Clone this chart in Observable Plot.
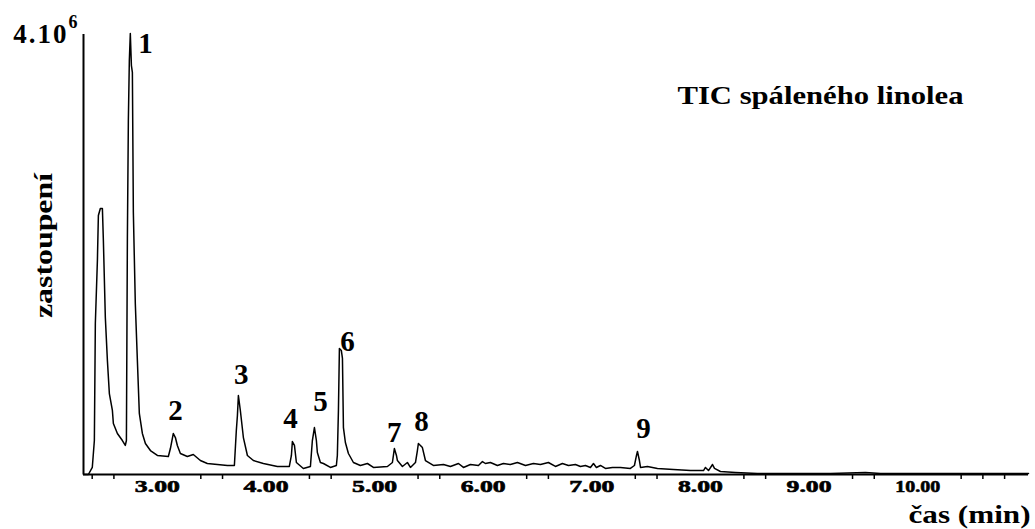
<!DOCTYPE html>
<html><head><meta charset="utf-8">
<script src="https://cdn.jsdelivr.net/npm/d3@7"></script>
<script src="https://cdn.jsdelivr.net/npm/@observablehq/plot@0.6"></script>
<style>
html,body{margin:0;padding:0;background:#fff;}
</style>
</head><body><div id="chart"></div>
<script>
// retention time (min)
const times = [2.319,2.365,2.401,2.420,2.429,2.448,2.457,2.475,2.494,2.503,2.521,2.540,2.558,2.586,2.595,2.632,2.678,2.705,2.715,2.724,2.733,2.742,2.751,2.761,2.770,2.779,2.797,2.816,2.834,2.862,2.890,2.936,3.000,3.101,3.120,3.147,3.166,3.184,3.212,3.276,3.331,3.396,3.460,3.645,3.709,3.727,3.737,3.746,3.764,3.792,3.829,3.884,3.976,4.105,4.215,4.234,4.243,4.262,4.280,4.344,4.409,4.427,4.446,4.464,4.473,4.501,4.529,4.593,4.648,4.657,4.667,4.676,4.694,4.704,4.713,4.731,4.759,4.805,4.869,4.934,4.989,5.118,5.164,5.182,5.201,5.210,5.256,5.302,5.330,5.376,5.394,5.403,5.422,5.440,5.468,5.541,5.634,5.698,5.772,5.818,5.882,5.956,5.993,6.020,6.066,6.131,6.186,6.250,6.315,6.389,6.462,6.527,6.600,6.665,6.729,6.785,6.849,6.895,6.941,6.987,7.015,7.042,7.079,7.125,7.190,7.263,7.355,7.392,7.411,7.420,7.438,7.448,7.512,7.604,7.751,7.908,8.028,8.046,8.074,8.111,8.129,8.184,8.322,8.525,8.737,8.921,9.197,9.519,9.658,11.02];
// abundance (×10^6)
const signal = [0,0,0.064,0.309,1.373,1.945,2.355,2.418,2.418,2.127,1.427,1.036,0.736,0.582,0.464,0.373,0.309,0.264,0.309,2.145,3.218,3.764,4.009,3.718,3.655,2.382,1.555,1.036,0.555,0.373,0.282,0.218,0.173,0.164,0.236,0.373,0.336,0.264,0.191,0.164,0.182,0.127,0.100,0.082,0.082,0.400,0.536,0.718,0.582,0.336,0.173,0.127,0.100,0.073,0.073,0.173,0.300,0.264,0.109,0.055,0.073,0.309,0.427,0.309,0.200,0.109,0.100,0.064,0.082,0.173,0.582,1.145,1.127,1.055,0.427,0.291,0.191,0.109,0.082,0.100,0.064,0.073,0.109,0.236,0.173,0.127,0.073,0.109,0.064,0.109,0.218,0.282,0.264,0.245,0.127,0.082,0.091,0.073,0.100,0.064,0.091,0.082,0.118,0.100,0.109,0.082,0.100,0.091,0.109,0.082,0.100,0.091,0.109,0.073,0.100,0.082,0.091,0.073,0.082,0.064,0.100,0.064,0.082,0.055,0.064,0.064,0.055,0.082,0.173,0.209,0.127,0.064,0.073,0.055,0.045,0.036,0.036,0.064,0.036,0.091,0.055,0.027,0.018,0.009,0.009,0.009,0.009,0.018,0.009,0.009];

const peakLabels = ["1","2","3","4","5","6","7","8","9"];
const peakLabelTimes = [2.890,3.166,3.773,4.225,4.501,4.750,5.182,5.431,7.475];
const peakLabelHeights = [3.836,0.491,0.827,0.427,0.573,1.127,0.291,0.391,0.336];

const xTickValues = [3,4,5,6,7,8,9,10];
const xTickLabels = ["3.00","4.00","5.00","6.00","7.00","8.00","9.00","10.00"];
const minorTicks = [2.4,2.6,3.4,3.6,4.4,4.6,5.4,5.6,6.4,6.6,7.4,7.6,8.4,8.6,9.4,9.6,10.4,10.6,10.8];
const yTopValue = 4;
const yTopLabel = "4.10";
const yTopExponent = "6";

const titleText = "TIC spáleného linolea";
const xLabelText = "čas (min)";
const yLabelText = "zastoupení";

const data = times.map((t, i) => ({t, v: signal[i]}));
const peaks = peakLabels.map((l, i) => ({l, t: peakLabelTimes[i], v: peakLabelHeights[i]}));
const serif = '"Liberation Serif", "Times New Roman", serif';
const xMin = 2.32;

const chart = Plot.plot({
  width: 1035, height: 529,
  marginLeft: 83, marginRight: 7, marginTop: 34, marginBottom: 55,
  x: {domain: [xMin, 11.02], axis: null},
  y: {domain: [0, 4], axis: null},
  style: {fontFamily: serif, fontWeight: "bold", color: "#000", background: "#fff", overflow: "visible"},
  marks: [
    Plot.axisX({ticks: minorTicks, tickSize: 5, tickFormat: () => "", label: null, strokeWidth: 1.5}),
    Plot.axisX({ticks: xTickValues, tickSize: 0, tickPadding: 5, fontSize: 17, label: null,
      tickFormat: d => xTickLabels[xTickValues.indexOf(d)]}),
    Plot.axisY({ticks: [yTopValue], tickSize: 0, tickPadding: 6, fontSize: 27, label: null,
      tickFormat: () => yTopLabel}),
    Plot.line(data, {x: "t", y: "v", stroke: "#000", strokeWidth: 1.5, clip: false}),
    Plot.ruleY([0], {stroke: "#000", strokeWidth: 2}),
    Plot.ruleX([xMin], {stroke: "#000", strokeWidth: 2}),
    Plot.text(peaks, {x: "t", y: "v", text: "l", fontSize: 29, lineAnchor: "bottom", textAnchor: "middle", fill: "#000"}),
    Plot.text([titleText], {frameAnchor: "top-right", dx: -65, dy: 69, textAnchor: "end", lineAnchor: "bottom", fontSize: 26}),
    Plot.text([xLabelText], {frameAnchor: "bottom-right", dx: 2, dy: 48, textAnchor: "end", lineAnchor: "bottom", fontSize: 26}),
    Plot.text([yLabelText], {frameAnchor: "left", dx: -40, dy: -9, rotate: -90, textAnchor: "middle", lineAnchor: "middle", fontSize: 26})
  ]
});
document.getElementById("chart").appendChild(chart);

const svg = d3.select(chart);
svg.selectAll('g[aria-label="x-axis tick label"] text')
  .filter(function() { return this.textContent !== ""; })
  .attr("textLength", 45).attr("lengthAdjust", "spacingAndGlyphs")
  .attr("stroke", "#000").attr("stroke-width", 0.6);
const yt = svg.select('g[aria-label="y-axis tick label"] text');
yt.attr("letter-spacing", 2);
yt.append("tspan").attr("dy", -15).attr("font-size", 18).attr("letter-spacing", 0).text(yTopExponent);
const stretch = {[titleText]: 286, [xLabelText]: 122, [yLabelText]: 145};
svg.selectAll("text").each(function() {
  const w = stretch[this.textContent];
  if (w) d3.select(this).attr("textLength", w).attr("lengthAdjust", "spacingAndGlyphs");
});
</script>
</body></html>
